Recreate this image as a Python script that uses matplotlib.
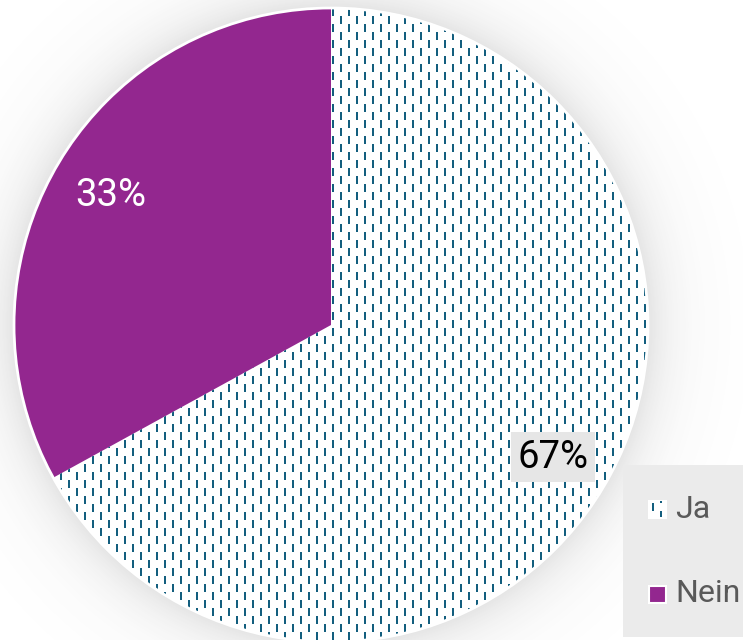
import numpy as np
import matplotlib
matplotlib.use("Agg")
import matplotlib.pyplot as plt
from matplotlib.patches import Rectangle, Circle

plt.rcParams["font.family"] = ["Roboto", "DejaVu Sans"]

# survey answers
labels = ["Ja", "Nein"]
values = [67, 33]

W, H = 743, 640
purple = "#93278F"
teal = "#135E7E"
cx, cy, R = 331, 640 - 325, 317

fig = plt.figure(figsize=(W / 100, H / 100), dpi=100)
ax = fig.add_axes([0, 0, 1, 1])

# soft drop shadow around the pie
yy, xx = np.mgrid[0:H, 0:W]
dist = np.hypot(xx + 0.5 - cx, (H - yy - 0.5) - cy) - R
shade = np.zeros((H, W, 4))
shade[..., :3] = 0.3
shade[..., 3] = np.where(dist > -2, 0.15 * np.exp(-np.clip(dist, 0, None) / 28), 0)
ax.imshow(shade, extent=(0, W, 0, H), origin="upper", zorder=0, interpolation="nearest")

wedges, _ = ax.pie(values, startangle=90, counterclock=False,
                   colors=["white", purple], center=(cx, cy), radius=R,
                   wedgeprops=dict(edgecolor="none", linewidth=0))
for w in wedges:
    w.set_zorder(1)

# dashed texture for the "Ja" slice
tex = np.zeros((H, W, 4))
col = np.array(matplotlib.colors.to_rgb(teal))
k = (xx - 4) // 8
on = ((xx - 4) % 8 < 2) & (((yy + 8 * (k % 2)) % 16) < 8)
tex[on, :3] = col
tex[on, 3] = 1.0
im = ax.imshow(tex, extent=(0, W, 0, H), origin="upper", zorder=2, interpolation="nearest")
im.set_clip_path(wedges[0])

ax.add_patch(Circle((cx, cy), R, fill=False, edgecolor="white", lw=2, zorder=3))

# percentage labels
ax.text(111, H - 196, f"{values[1]}%", color="white", fontsize=27.5,
        ha="center", va="center", zorder=4)
ax.text(553, H - 457, f"{values[0]}%", color="black", fontsize=27.5,
        ha="center", va="center", zorder=4,
        bbox=dict(boxstyle="square,pad=0.17", fc="#E6E6E6", ec="none"))

# legend
ax.add_patch(Rectangle((623, H - 637), 140, 172, fc="#EBEBEB", ec="none", zorder=4))
ys = [509, 594]
for i, (lab, y) in enumerate(zip(labels, ys)):
    sq = Rectangle((649, H - y - 8.5), 17, 17, fc="white" if i == 0 else purple,
                   ec="white", lw=1.5, zorder=5)
    ax.add_patch(sq)
    if i == 0:
        im2 = ax.imshow(tex, extent=(0, W, 0, H), origin="upper", zorder=6,
                        interpolation="nearest")
        im2.set_clip_path(sq)
    ax.text(675, H - y, lab, color="#595959", fontsize=23, ha="left",
            va="center", zorder=6)

ax.set_xlim(0, W)
ax.set_ylim(0, H)
ax.set_aspect("auto")
ax.axis("off")

fig.savefig("out.png", dpi=100, facecolor="white")
